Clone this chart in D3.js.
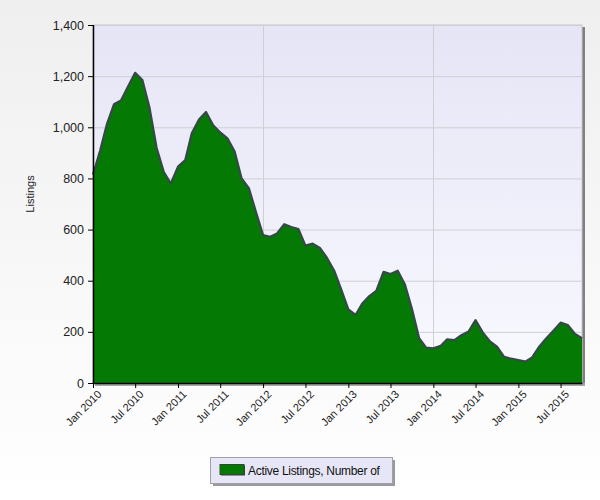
<!DOCTYPE html>
<html>
<head>
<meta charset="utf-8">
<script src="https://cdn.jsdelivr.net/npm/d3@7"></script>
<style>
  html, body { margin: 0; padding: 0; }
  svg { display: block; }
</style>
</head>
<body>
<div id="chart"></div>
<script>
// monthly active listings, Jan 2010 .. Oct 2015
const startYear = 2010;
const listings = [
  815, 910, 1010, 1090, 1105, 1160, 1213, 1185, 1075, 920, 825, 780,
  846, 872, 977, 1030, 1060, 1008, 980, 957, 905, 800, 762, 670,
  578, 572, 585, 621, 610, 602, 537, 545, 528, 490, 440, 367,
  288, 266, 310, 340, 360, 435, 426, 439, 385, 290, 175, 138,
  136, 145, 171, 168, 187, 201, 246, 198, 163, 142, 102, 95,
  90, 84, 100, 143, 175, 205, 236, 227, 192, 175
];
const yTicks = [0, 200, 400, 600, 800, 1000, 1200, 1400];
const seriesName = "Active Listings, Number of";
const yTitle = "Listings";

const WIDTH = 600, HEIGHT = 500;
const MARGIN = { LEFT: 93, RIGHT: 18, TOP: 25, BOTTOM: 117 };
const innerW = WIDTH - MARGIN.LEFT - MARGIN.RIGHT;
const innerH = HEIGHT - MARGIN.TOP - MARGIN.BOTTOM;

const data = listings.map((v, i) => ({ date: new Date(startYear, i, 1), value: v }));

const svg = d3.select("#chart").append("svg")
    .attr("width", WIDTH)
    .attr("height", HEIGHT)
    .style("font-family", "'Liberation Sans', Arial, sans-serif");

const defs = svg.append("defs");
const bgGrad = defs.append("linearGradient").attr("id", "bg").attr("x1", 0).attr("y1", 0).attr("x2", 0).attr("y2", 1);
bgGrad.append("stop").attr("offset", "0%").attr("stop-color", "#efefef");
bgGrad.append("stop").attr("offset", "100%").attr("stop-color", "#ffffff");
const plotGrad = defs.append("linearGradient").attr("id", "plotbg").attr("x1", 0).attr("y1", 0).attr("x2", 0).attr("y2", 1);
plotGrad.append("stop").attr("offset", "0%").attr("stop-color", "#e5e5f6");
plotGrad.append("stop").attr("offset", "100%").attr("stop-color", "#f9f9ff");

svg.append("rect").attr("width", WIDTH).attr("height", HEIGHT).attr("fill", "url(#bg)");

const g = svg.append("g").attr("transform", `translate(${MARGIN.LEFT},${MARGIN.TOP})`);

const x = d3.scaleTime()
    .domain([data[0].date, data[data.length - 1].date])
    .range([0, innerW]);
const y = d3.scaleLinear()
    .domain([0, 1400])
    .range([innerH, 0]);

// shadow + plot background
g.append("rect").attr("x", innerW).attr("y", 2).attr("width", 3).attr("height", innerH + 1).attr("fill", "#808080");
g.append("rect").attr("x", 2).attr("y", innerH).attr("width", innerW + 1).attr("height", 3).attr("fill", "#a8a8a8");
g.append("rect").attr("width", innerW).attr("height", innerH).attr("fill", "url(#plotbg)")
    .attr("stroke", "#c8c8d0").attr("stroke-width", 1);

// grid
g.selectAll(".hgrid").data(yTicks.slice(1)).enter().append("line")
    .attr("x1", 0).attr("x2", innerW)
    .attr("y1", d => y(d) + 0.5).attr("y2", d => y(d) + 0.5)
    .attr("stroke", "#cfcfd4");
const gridDates = [new Date(2012, 0, 1), new Date(2014, 0, 1)];
g.selectAll(".vgrid").data(gridDates).enter().append("line")
    .attr("x1", d => Math.round(x(d)) + 0.5).attr("x2", d => Math.round(x(d)) + 0.5)
    .attr("y1", 0).attr("y2", innerH)
    .attr("stroke", "#cfcfd4");

// area
const area = d3.area()
    .x(d => x(d.date))
    .y0(innerH)
    .y1(d => y(d.value));
const line = d3.line()
    .x(d => x(d.date))
    .y(d => y(d.value));
g.append("path").datum(data).attr("d", area).attr("fill", "#047a04");
g.append("path").datum(data).attr("d", line)
    .attr("fill", "none").attr("stroke", "#364848").attr("stroke-width", 2.2)
    .attr("stroke-linejoin", "round");

// axes
const yAxis = d3.axisLeft(y).tickValues(yTicks).tickSize(5).tickPadding(4).tickFormat(d3.format(","));
const yG = g.append("g").call(yAxis);
yG.select(".domain").remove();
yG.selectAll("text").attr("font-size", "12.5px").attr("fill", "#222");
yG.selectAll("line").attr("stroke", "#000");
g.append("line").attr("x1", 0.5).attr("x2", 0.5).attr("y1", 0).attr("y2", innerH + 1).attr("stroke", "#000").attr("stroke-width", 1.5);

const xTicks = d3.range(0, 12).map(i => new Date(startYear + Math.floor(i / 2), (i % 2) * 6, 1));
const xAxis = d3.axisBottom(x).tickValues(xTicks).tickSize(5).tickSizeOuter(0).tickFormat(d3.timeFormat("%b %Y"));
const xG = g.append("g").attr("transform", `translate(0,${innerH})`).call(xAxis);
xG.select(".domain").attr("stroke", "#000").attr("stroke-width", 1.5);
xG.selectAll("line").attr("stroke", "#000");
xG.selectAll("text")
    .attr("font-size", "11px")
    .attr("fill", "#222")
    .style("text-anchor", "end")
    .attr("dx", "-0.2em")
    .attr("dy", "0.6em")
    .attr("transform", "rotate(-45)");

// y title
svg.append("text")
    .attr("transform", `translate(34,${MARGIN.TOP + innerH / 2 - 10}) rotate(-90)`)
    .attr("text-anchor", "middle")
    .attr("font-size", "11px")
    .attr("fill", "#222")
    .text(yTitle);

// legend
const leg = svg.append("g").attr("transform", "translate(210,457)");
leg.append("rect").attr("x", 3).attr("y", 3).attr("width", 182).attr("height", 26).attr("fill", "#9a9a9a");
leg.append("rect").attr("x", 0.5).attr("y", 0.5).attr("width", 182).attr("height", 26)
    .attr("fill", "#e6e6f6").attr("stroke", "#a0a0a8");
leg.append("rect").attr("x", 11).attr("y", 8.5).attr("width", 24).attr("height", 10).attr("fill", "#3a3a3a");
leg.append("rect").attr("x", 10).attr("y", 7.5).attr("width", 24).attr("height", 10)
    .attr("fill", "#047a04").attr("stroke", "#2e4a2e").attr("stroke-width", 1);
leg.append("text").attr("x", 38).attr("y", 17.5).attr("font-size", "12px").attr("fill", "#111")
    .attr("letter-spacing", "-0.3px")
    .text(seriesName);
</script>
</body>
</html>
